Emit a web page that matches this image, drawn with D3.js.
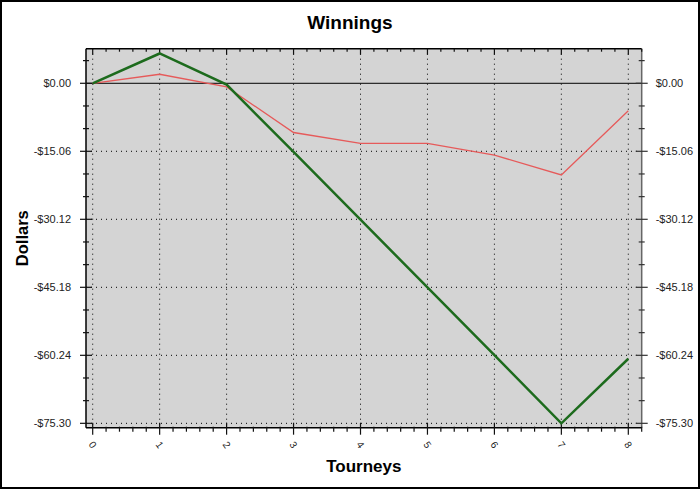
<!DOCTYPE html>
<html>
<head>
<meta charset="utf-8">
<script src="https://cdn.jsdelivr.net/npm/d3@7"></script>
<style>
html,body{margin:0;padding:0;background:#fff;}
svg{display:block;font-family:"Liberation Sans",Arial,sans-serif;}
</style>
</head>
<body>
<script>
const tourneys = [0, 1, 2, 3, 4, 5, 6, 7, 8];
const greenValues = [0, 6.6, -0.3, -15.2, -30.2, -45.2, -60.2, -75.3, -61.0];
const redValues = [0, 2.0, -0.8, -10.9, -13.3, -13.3, -15.9, -20.3, -6.1];
const yTickValues = [0, -15.06, -30.12, -45.18, -60.24, -75.30];
const titleText = "Winnings";
const xTitle = "Tourneys";
const yTitle = "Dollars";

(function () {
const W = 700, H = 490;
const pL = 86, pR = 641.7, pT = 48.7, pB = 427.7;

const svg = d3.select("body").append("svg").attr("width", W).attr("height", H);
svg.append("rect").attr("x", 0).attr("y", 0).attr("width", W).attr("height", H).attr("fill", "#fff");
svg.append("rect").attr("x", 1).attr("y", 1).attr("width", W - 2).attr("height", H - 3)
  .attr("fill", "none").attr("stroke", "#000").attr("stroke-width", 2);

const x = d3.scaleLinear().domain([-0.1, 8.2]).range([pL, pR]);
const y = d3.scaleLinear().domain([-76.27, 7.66]).range([pB, pT]);

svg.append("rect").attr("x", pL).attr("y", pT).attr("width", pR - pL).attr("height", pB - pT)
  .attr("fill", "#d4d4d4");

const grid = svg.append("g");
grid.selectAll("line.v").data(tourneys).enter().append("line")
  .attr("x1", d => x(d)).attr("x2", d => x(d)).attr("y1", pT).attr("y2", pB)
  .attr("stroke", "#000").attr("stroke-width", 1).attr("stroke-dasharray", "1,4");
grid.selectAll("line.h").data(yTickValues.filter(v => v !== 0)).enter().append("line")
  .attr("x1", pL).attr("x2", pR).attr("y1", d => y(d)).attr("y2", d => y(d))
  .attr("stroke", "#000").attr("stroke-width", 1).attr("stroke-dasharray", "1,4");
grid.append("line").attr("x1", pL).attr("x2", pR).attr("y1", y(0)).attr("y2", y(0))
  .attr("stroke", "#000").attr("stroke-width", 1);

const yMinor = d3.range(-15, 2).map(i => i * 5.02).filter(v => v >= -76.27 && v <= 7.66 && Math.abs(Math.round(v / 15.06) * 15.06 - v) > 0.01);
const xMinor = d3.range(0, 42).map(i => i * 0.2).filter(v => Math.abs(v - Math.round(v)) > 0.01);

svg.append("line").attr("x1", pL).attr("x2", pR).attr("y1", pT).attr("y2", pT).attr("stroke", "#000").attr("stroke-width", 1.5);
svg.append("line").attr("x1", pL).attr("x2", pR).attr("y1", pB).attr("y2", pB).attr("stroke", "#000").attr("stroke-width", 1.5);
svg.append("line").attr("x1", pL).attr("x2", pL).attr("y1", pT).attr("y2", pB).attr("stroke", "#000").attr("stroke-width", 1.5);
svg.append("line").attr("x1", pR).attr("x2", pR).attr("y1", pT).attr("y2", pB).attr("stroke", "#666").attr("stroke-width", 1.5);

const tk = svg.append("g").attr("stroke", "#111").attr("stroke-width", 1.2);
yTickValues.forEach(v => {
  tk.append("line").attr("x1", pL - 6).attr("x2", pL + 6).attr("y1", y(v)).attr("y2", y(v));
  tk.append("line").attr("x1", pR - 6).attr("x2", pR + 6).attr("y1", y(v)).attr("y2", y(v)).attr("stroke", "#333");
});
yMinor.forEach(v => {
  tk.append("line").attr("x1", pL - 3).attr("x2", pL + 3).attr("y1", y(v)).attr("y2", y(v));
  tk.append("line").attr("x1", pR - 3).attr("x2", pR + 3).attr("y1", y(v)).attr("y2", y(v)).attr("stroke", "#333");
});
tourneys.forEach(v => {
  tk.append("line").attr("x1", x(v)).attr("x2", x(v)).attr("y1", pB - 5).attr("y2", pB + 7);
  tk.append("line").attr("x1", x(v)).attr("x2", x(v)).attr("y1", pT).attr("y2", pT + 6);
});
xMinor.forEach(v => {
  tk.append("line").attr("x1", x(v)).attr("x2", x(v)).attr("y1", pB - 1).attr("y2", pB + 4);
  tk.append("line").attr("x1", x(v)).attr("x2", x(v)).attr("y1", pT).attr("y2", pT + 3);
});

const fmt = v => (v < 0 ? "-$" : "$") + Math.abs(v).toFixed(2);
svg.selectAll("text.yl").data(yTickValues).enter().append("text")
  .attr("x", pL - 15).attr("y", d => y(d) + 4).attr("text-anchor", "end")
  .attr("font-size", 11).attr("fill", "#222").text(fmt);
svg.selectAll("text.yr").data(yTickValues).enter().append("text")
  .attr("x", pR + 14).attr("y", d => y(d) + 4).attr("text-anchor", "start")
  .attr("font-size", 11).attr("fill", "#222").text(fmt);
svg.selectAll("text.xl").data(tourneys).enter().append("text")
  .attr("transform", d => `translate(${x(d)},${pB + 17}) rotate(55)`)
  .attr("text-anchor", "middle").attr("dy", "0.35em")
  .attr("font-size", 10).attr("fill", "#222").text(d => d);

const line = d3.line().x((d, i) => x(tourneys[i])).y(d => y(d));
svg.append("path").datum(redValues).attr("d", line).attr("fill", "none")
  .attr("stroke", "#e65a5a").attr("stroke-width", 1.3);
svg.append("path").datum(greenValues).attr("d", line).attr("fill", "none")
  .attr("stroke", "#1d6b1d").attr("stroke-width", 2.5);

svg.append("text").attr("x", 350).attr("y", 29).attr("text-anchor", "middle")
  .attr("font-size", 19).attr("font-weight", "bold").attr("fill", "#000").text(titleText);
svg.append("text").attr("x", (pL + pR) / 2).attr("y", 472).attr("text-anchor", "middle")
  .attr("font-size", 17).attr("font-weight", "bold").attr("fill", "#000").text(xTitle);
svg.append("text").attr("transform", `translate(28,${(pT + pB) / 2}) rotate(-90)`)
  .attr("text-anchor", "middle").attr("font-size", 16.5).attr("font-weight", "bold").attr("fill", "#000").text(yTitle);
})();
</script>
</body>
</html>
